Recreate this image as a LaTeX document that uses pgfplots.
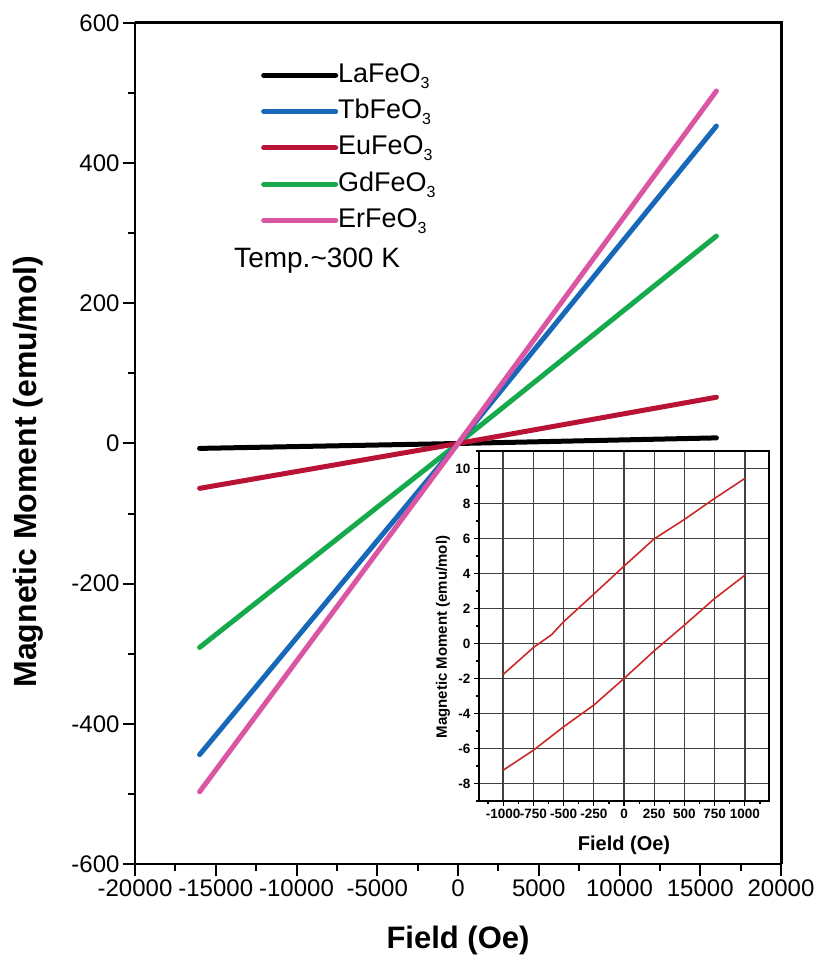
\documentclass[border=0pt]{standalone}
\usepackage{pgfplots}
\pgfplotsset{compat=1.18}
\usepackage{fontspec}
\setmainfont{Liberation Sans}
\definecolor{cLa}{RGB}{0,0,0}
\definecolor{cTb}{RGB}{24,104,186}
\definecolor{cEu}{RGB}{184,18,52}
\definecolor{cGd}{RGB}{22,170,76}
\definecolor{cEr}{RGB}{218,86,162}
\definecolor{cIn}{RGB}{205,40,40}
\newcommand{\sub}[1]{\raisebox{-6pt}{\fontsize{16}{16}\selectfont #1}}
\begin{document}
\begin{tikzpicture}
\useasboundingbox (-135pt,-96pt) rectangle (679pt,864pt);
\begin{axis}[
  name=main,
  at={(0pt,0pt)}, anchor=south west,
  scale only axis, width=646pt, height=841pt,
  xmin=-20000, xmax=20000, ymin=-600, ymax=600,
  xtick distance=5000, ytick distance=200, minor tick num=1,
  xtick pos=bottom, ytick pos=left, tick align=outside,
  major tick length=12pt, minor tick length=7pt,
  tick style={black, line width=2pt},
  axis line style={line width=2.5pt},
  scaled ticks=false,
  /pgf/number format/1000 sep={},
  /pgf/number format/assume math mode=true,
  ticklabel style={font=\fontsize{24}{28}\selectfont},
  every axis x label/.style={at={([yshift=-76pt]axis description cs:0.5,0)}, anchor=center, font=\bfseries\fontsize{31}{36}\selectfont},
  every axis y label/.style={at={([xshift=-107pt,yshift=-28pt]axis description cs:0,0.5)}, anchor=center, rotate=90, font=\bfseries\fontsize{32}{36}\selectfont},
  xlabel={Field (Oe)}, ylabel={Magnetic Moment (emu/mol)},
  legend cell align=left,
  legend image code/.code={\draw[#1, line width=5pt, line cap=round] (0pt,0pt) -- (72pt,0pt);},
  legend style={draw=none, fill=none, font=\fontsize{27}{30}\selectfont,
    at={(axis description cs:0.195,0.9536)}, anchor=north west, inner sep=0pt,
    nodes={inner sep=0pt, text height=20pt, text depth=6pt},
    row sep=10.3pt, /tikz/every even column/.append style={column sep=7pt}},
]
\addlegendimage{cLa}
\addlegendentry{LaFeO\sub{3}}
\addlegendimage{cTb}
\addlegendentry{TbFeO\sub{3}}
\addlegendimage{cEu}
\addlegendentry{EuFeO\sub{3}}
\addlegendimage{cGd}
\addlegendentry{GdFeO\sub{3}}
\addlegendimage{cEr}
\addlegendentry{ErFeO\sub{3}}
\addplot[cLa, line width=5pt, line cap=round, forget plot] coordinates {(-16000,-7) (0,0) (16000,8)};
\addplot[cGd, line width=5pt, line cap=round, forget plot] coordinates {(-16000,-291) (0,0) (16000,296)};
\addplot[cEu, line width=5pt, line cap=round, forget plot] coordinates {(-16000,-64) (0,0) (16000,66)};
\addplot[cTb, line width=5pt, line cap=round, forget plot] coordinates {(-16000,-444) (0,0) (16000,453)};
\addplot[cEr, line width=5pt, line cap=round, forget plot] coordinates {(-16000,-497) (0,0) (16000,503)};
\node[anchor=base west, font=\fontsize{28}{32}\selectfont, inner sep=0pt] at (axis description cs:0.1533,0.7087) {Temp.\textasciitilde 300 K};
\end{axis}
\begin{axis}[
  at={(344pt,63pt)}, anchor=south west,
  scale only axis, width=290pt, height=350pt,
  xmin=-1200, xmax=1200, ymin=-9, ymax=11,
  xtick={-1000,-750,...,1000}, minor xtick={-1125,-875,...,1125},
  ytick={-8,-6,...,10}, minor ytick={-9,-7,...,11},
  grid=major, grid style={line width=1.4pt, black!75},
  xtick pos=bottom, ytick pos=left, tick align=outside,
  major tick length=5pt, minor tick length=3pt,
  tick style={black, line width=1.2pt},
  axis line style={line width=2pt},
  axis background/.style={fill=white},
  /pgf/number format/1000 sep={},
  /pgf/number format/assume math mode=true,
  ticklabel style={font=\bfseries\fontsize{13.5}{15}\selectfont},
  xticklabel style={inner xsep=0pt},
  every axis x label/.style={at={([yshift=-44pt]axis description cs:0.5,0)}, anchor=center, font=\bfseries\fontsize{20}{24}\selectfont},
  every axis y label/.style={at={([xshift=-36pt,yshift=-11pt]axis description cs:0,0.5)}, anchor=center, rotate=90, font=\bfseries\fontsize{15}{18}\selectfont},
  xlabel={Field (Oe)}, ylabel={Magnetic Moment (emu/mol)},
]
\addplot[cIn, line width=1.6pt] coordinates {
(-1000,-1.77) (-750,-0.23) (-600,0.5) (-500,1.24) (-250,2.82) (0,4.42) (250,5.98) (500,7.09) (750,8.29) (1000,9.43)};
\addplot[cIn, line width=1.6pt] coordinates {
(-1000,-7.24) (-750,-6.1) (-500,-4.76) (-250,-3.52) (0,-2.0) (250,-0.42) (500,1.05) (750,2.57) (1000,3.9)};
\end{axis}
\draw[line width=3pt, black] (0pt,841pt) -- (646pt,841pt) -- (646pt,0pt);
\end{tikzpicture}
\end{document}
